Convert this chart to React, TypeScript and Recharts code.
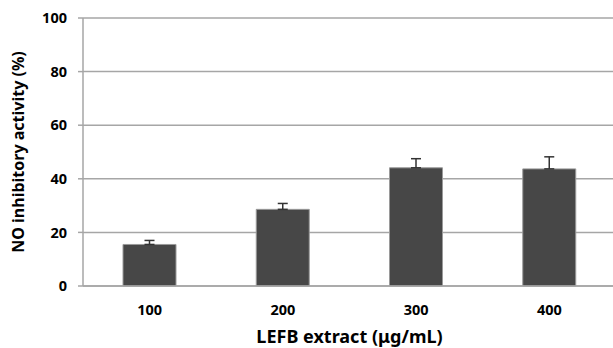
import React from 'react';
import { BarChart, Bar, XAxis, YAxis, CartesianGrid, ErrorBar } from 'recharts';

const categories = ['100', '200', '300', '400'];
const values = [15.5, 28.6, 44.1, 43.7];
const errors = [1.5, 2.2, 3.4, 4.5];
const yTicks = [0, 20, 40, 60, 80, 100];

const data = categories.map((c, i) => ({ name: c, value: values[i], err: [0, errors[i]] }));

const FONT = '"Noto Sans", sans-serif';

export default function App() {
  return (
    <div style={{ position: 'absolute', left: 0, top: 0, background: '#fff' }}>
      <BarChart
        width={613}
        height={348}
        data={data}
        margin={{ top: 18, right: -3, bottom: 32, left: 0 }}
        barCategoryGap={40}
      >
        <CartesianGrid vertical={false} stroke="#a6a6a6" strokeWidth={1.5} />
        <XAxis
          dataKey="name"
          height={30}
          tickLine={false}
          axisLine={{ stroke: '#a6a6a6', strokeWidth: 1.5 }}
          tickSize={0}
          tickMargin={19}
          tick={{ fill: '#000', fontSize: 14.5, fontWeight: 'bold', fontFamily: FONT }}
          label={{
            value: 'LEFB extract (μg/mL)',
            position: 'bottom',
            offset: 14,
            style: { fill: '#000', fontSize: 18, fontWeight: 'bold', fontFamily: FONT },
          }}
        />
        <YAxis
          width={83}
          domain={[0, 100]}
          ticks={yTicks}
          interval={0}
          tickSize={5}
          tickMargin={11}
          tickLine={{ stroke: '#a6a6a6', strokeWidth: 1.5 }}
          axisLine={{ stroke: '#a6a6a6', strokeWidth: 1.5 }}
          tick={{ fill: '#000', fontSize: 14.5, fontWeight: 'bold', fontFamily: FONT }}
          label={{
            value: 'NO inhibitory activity (%)',
            angle: -90,
            position: 'insideLeft',
            offset: 18,
            style: { fill: '#000', fontSize: 16, fontWeight: 'bold', fontFamily: FONT, textAnchor: 'middle' },
          }}
        />
        <Bar dataKey="value" fill="#474747" stroke="#9a9a9a" strokeWidth={1} isAnimationActive={false}>
          <ErrorBar dataKey="err" width={5} stroke="#333" strokeWidth={1.5} direction="y" />
        </Bar>
      </BarChart>
    </div>
  );
}
